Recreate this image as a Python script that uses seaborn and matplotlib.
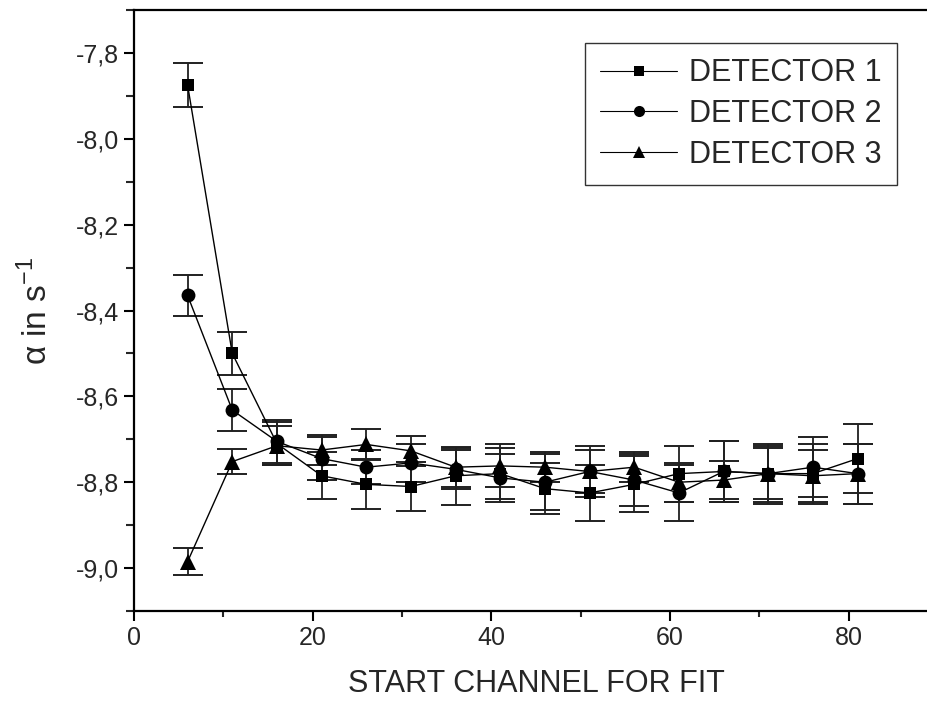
import matplotlib
matplotlib.use("Agg")
import matplotlib.pyplot as plt
import matplotlib.font_manager as fm
from matplotlib.lines import Line2D
from matplotlib.ticker import MultipleLocator, FuncFormatter
import seaborn as sns
import pandas as pd

x_channel = [6, 11, 16, 21, 26, 31, 36, 41, 46, 51, 56, 61, 66, 71, 76, 81]
det1 = [-7.875, -8.50, -8.71, -8.785, -8.805, -8.81, -8.785, -8.78, -8.815, -8.825, -8.805, -8.78, -8.775, -8.78, -8.78, -8.745]
det1_err = [0.052, 0.05, 0.05, 0.055, 0.057, 0.058, 0.067, 0.06, 0.06, 0.065, 0.065, 0.065, 0.07, 0.07, 0.07, 0.08]
det2 = [-8.365, -8.632, -8.705, -8.745, -8.765, -8.755, -8.77, -8.79, -8.80, -8.775, -8.795, -8.825, -8.775, -8.78, -8.765, -8.78]
det2_err = [0.048, 0.048, 0.05, 0.05, 0.04, 0.045, 0.045, 0.055, 0.065, 0.05, 0.06, 0.065, 0.07, 0.065, 0.07, 0.07]
det3 = [-8.985, -8.752, -8.715, -8.725, -8.712, -8.727, -8.765, -8.762, -8.765, -8.775, -8.765, -8.80, -8.795, -8.78, -8.785, -8.78]
det3_err = [0.032, 0.03, 0.045, 0.035, 0.035, 0.035, 0.045, 0.05, 0.035, 0.06, 0.035, 0.045, 0.045, 0.06, 0.06, 0.07]
labels = ["DETECTOR 1", "DETECTOR 2", "DETECTOR 3"]
markers = ["s", "o", "^"]

sns.set_style("ticks")
avail = {f.name for f in fm.fontManager.ttflist}
fam = "Liberation Sans Narrow" if "Liberation Sans Narrow" in avail else "Liberation Sans"
plt.rcParams["font.family"] = [fam, "DejaVu Sans"]
plt.rcParams["mathtext.fontset"] = "custom"
plt.rcParams["mathtext.rm"] = fam

fig = plt.figure(figsize=(9.28, 7.04), dpi=100)
ax = fig.add_axes([134 / 928, 93 / 704, 804 / 928, 601 / 704])

series = [det1, det2, det3]
errors = [det1_err, det2_err, det3_err]
msizes = [9, 10, 12]

for ys, es in zip(series, errors):
    ax.errorbar(x_channel, ys, yerr=es, fmt="none", ecolor="#202020",
                elinewidth=1.3, capsize=11, capthick=1.4, zorder=2)

for lab, ys, m, ms in zip(labels, series, markers, msizes):
    d = pd.DataFrame({"x": x_channel, "y": ys})
    sns.lineplot(data=d, x="x", y="y", marker=m, color="black", linewidth=1.0,
                 markersize=ms, markeredgewidth=0, ax=ax, zorder=3)

ax.set_xlim(0, 90)
ax.set_ylim(-9.1, -7.7)
ax.xaxis.set_major_locator(MultipleLocator(20))
ax.xaxis.set_minor_locator(MultipleLocator(10))
ax.yaxis.set_major_locator(MultipleLocator(0.2))
ax.yaxis.set_minor_locator(MultipleLocator(0.1))
ax.yaxis.set_major_formatter(FuncFormatter(lambda v, p: f"{v:.1f}".replace(".", ",")))
ax.tick_params(axis="both", which="major", direction="out", length=7, width=1.5,
               labelsize=18, color="black")
ax.tick_params(axis="x", which="minor", direction="out", length=4, width=1.5)
ax.tick_params(axis="y", which="minor", direction="out", length=6, width=1.5)
for s in ax.spines.values():
    s.set_linewidth(1.6)
    s.set_color("black")
ax.spines["right"].set_visible(False)

ax.set_xlabel("START CHANNEL FOR FIT", fontsize=22, labelpad=14)
ax.set_ylabel("α in s$^{-1}$", fontsize=24, labelpad=16)

handles = [Line2D([0], [0], color="black", linewidth=0.8, marker=m, markersize=s,
                  markeredgewidth=0) for m, s in zip(markers, [7, 8, 9])]
leg = ax.legend(handles, labels, loc="upper right", bbox_to_anchor=(763 / 804, 1 - 33 / 601),
                fontsize=22, frameon=True, fancybox=False, edgecolor="black",
                handlelength=2.5, handletextpad=0.4, labelspacing=0.35,
                borderpad=0.5, borderaxespad=0)
leg.get_frame().set_linewidth(1.0)

fig.savefig("out.png", dpi=100)
